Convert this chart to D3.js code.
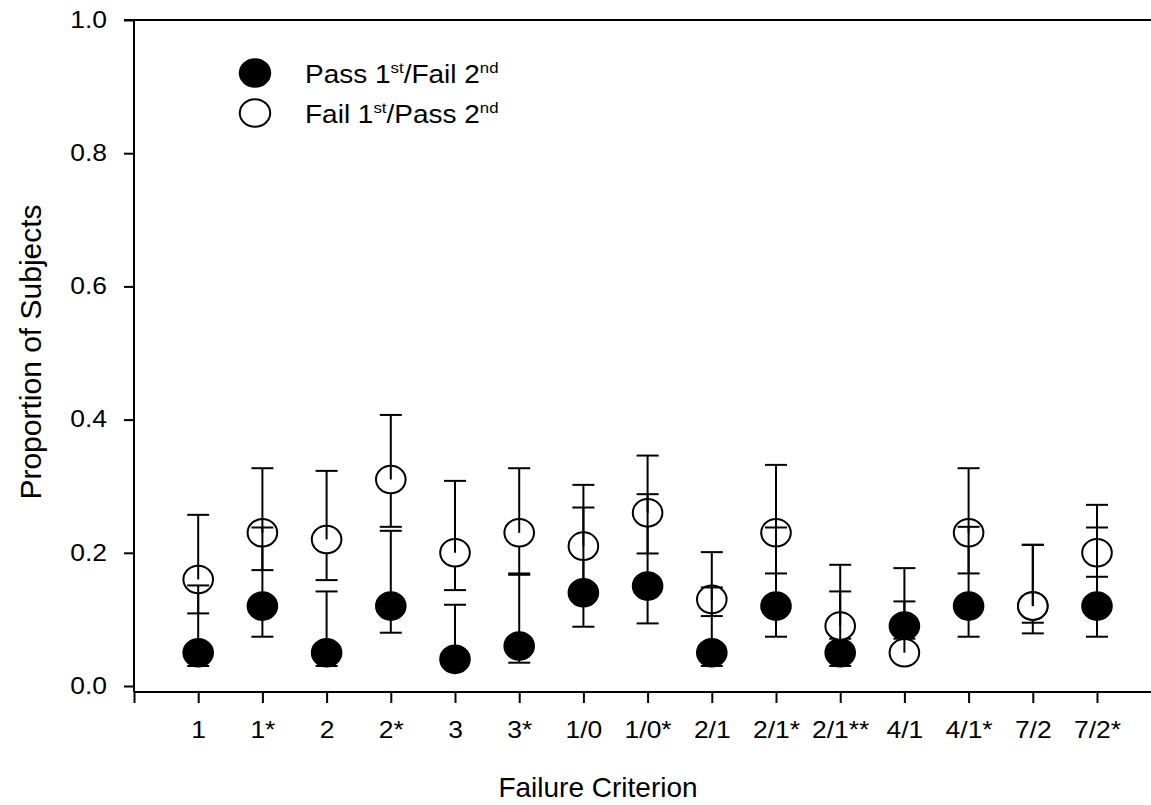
<!DOCTYPE html>
<html>
<head>
<meta charset="utf-8">
<script src="https://cdn.jsdelivr.net/npm/d3@7.9.0/dist/d3.min.js"></script>
<style>
  body { margin: 0; background: #fff; }
  svg { display: block; font-family: "Liberation Sans", Arial, sans-serif; }
</style>
</head>
<body>
<svg id="chart" width="1151" height="805"></svg>
<script>
// failure criteria along the x axis
const categories = ['1', '1*', '2', '2*', '3', '3*', '1/0', '1/0*', '2/1', '2/1*', '2/1**', '4/1', '4/1*', '7/2', '7/2*'];

// Pass 1st / Fail 2nd (filled circles) with interval bounds
const passFail     = [0.05, 0.12, 0.05, 0.12, 0.04, 0.06, 0.14, 0.15, 0.05, 0.12, 0.05, 0.09, 0.12, 0.12, 0.12];
const passFailLow  = [0.030, 0.074, 0.030, 0.080, 0.030, 0.035, 0.089, 0.094, 0.030, 0.074, 0.030, 0.071, 0.074, 0.079, 0.074];
const passFailHigh = [0.151, 0.238, 0.142, 0.233, 0.122, 0.169, 0.268, 0.288, 0.148, 0.238, 0.142, 0.177, 0.239, 0.212, 0.238];

// Fail 1st / Pass 2nd (open circles) with interval bounds
const failPass     = [0.16, 0.23, 0.22, 0.31, 0.20, 0.23, 0.21, 0.26, 0.13, 0.23, 0.09, 0.05, 0.23, 0.12, 0.20];
const failPassLow  = [0.109, 0.174, 0.159, 0.239, 0.144, 0.167, 0.150, 0.199, 0.105, 0.169, 0.071, 0.050, 0.169, 0.095, 0.164];
const failPassHigh = [0.257, 0.327, 0.323, 0.407, 0.308, 0.327, 0.302, 0.346, 0.201, 0.332, 0.182, 0.127, 0.327, 0.212, 0.272];

const yTicks = [0, 0.2, 0.4, 0.6, 0.8, 1.0];

const svg = d3.select('#chart');
const W = 1151;
const step = 64.2;
const stretch = 1.15; // the original picture is a bit wider than tall
const x = d3.scaleLinear().domain([0, 16]).range([134, 134 + 16 * step]);
const y = d3.scaleLinear().domain([0, 1]).range([686, 20]);
const axisY = 692;
const capW = 11;

const series = [
  { fill: '#000', vals: passFail, lo: passFailLow, hi: passFailHigh },
  { fill: '#fff', vals: failPass, lo: failPassLow, hi: failPassHigh }
];
const rows = [];
series.forEach(s => {
  categories.forEach((c, i) => {
    rows.push({ s: s, i: i, v: s.vals[i], lo: s.lo[i], hi: s.hi[i] });
  });
});

// axes
const xAxis = d3.axisBottom(x)
  .tickValues(d3.range(0, 16))
  .tickSize(11)
  .tickPadding(19)
  .tickFormat(d => d === 0 ? '' : categories[d - 1]);

const gx = svg.append('g')
  .attr('transform', `translate(0,${axisY})`)
  .call(xAxis);
gx.select('.domain').attr('d', `M${x(0)},0H${W + 20}`);

const yAxis = d3.axisLeft(y)
  .tickValues(yTicks)
  .tickSize(10)
  .tickPadding(13.5)
  .tickFormat(d3.format('.1f'));

const gy = svg.append('g')
  .attr('transform', `translate(${x(0)},0)`)
  .call(yAxis);
gy.select('.domain').attr('d', `M0,${y(1)}V${axisY}`);

// top frame line
svg.append('line')
  .attr('x1', x(0) - 10).attr('x2', W + 20)
  .attr('y1', y(1)).attr('y2', y(1))
  .attr('stroke', '#000').attr('stroke-width', 2);

svg.selectAll('.domain, .tick line').attr('stroke', '#000').attr('stroke-width', 2);
svg.selectAll('.tick text')
  .attr('fill', '#000')
  .attr('transform', `scale(${stretch},1)`)
  .style('font-size', '23px')
  .style('font-family', '"Liberation Sans", Arial, sans-serif');

function bars(g, data, key) {
  const sel = g.selectAll('g.' + key).data(data).join('g').attr('class', key);
  sel.append('line')
    .attr('x1', d => x(d.i + 1)).attr('x2', d => x(d.i + 1))
    .attr('y1', d => y(d.v)).attr('y2', d => y(d[key]))
    .attr('stroke', '#000').attr('stroke-width', 2);
  sel.append('line')
    .attr('x1', d => x(d.i + 1) - capW).attr('x2', d => x(d.i + 1) + capW)
    .attr('y1', d => y(d[key])).attr('y2', d => y(d[key]))
    .attr('stroke', '#000').attr('stroke-width', 2);
}

const plot = svg.append('g');
bars(plot.append('g'), rows, 'lo');

plot.append('g').selectAll('ellipse')
  .data(rows)
  .join('ellipse')
  .attr('cx', d => x(d.i + 1))
  .attr('cy', d => y(d.v))
  .attr('rx', 14.8)
  .attr('ry', 13.8)
  .attr('fill', d => d.s.fill)
  .attr('stroke', '#000')
  .attr('stroke-width', 2);

bars(plot.append('g'), rows, 'hi');

// legend
const legend = svg.append('g');
const legendItems = [
  { fill: '#000', a: 'Pass 1', b: '/Fail 2', y: 73 },
  { fill: '#fff', a: 'Fail 1', b: '/Pass 2', y: 113 }
];
legendItems.forEach(it => {
  legend.append('ellipse')
    .attr('cx', 255).attr('cy', it.y).attr('rx', 15.2).attr('ry', 13.8)
    .attr('fill', it.fill).attr('stroke', '#000').attr('stroke-width', 2);
  const t = legend.append('text')
    .attr('transform', `translate(305,${it.y + 10}) scale(1.12,1)`)
    .style('font-size', '25px');
  t.append('tspan').text(it.a);
  t.append('tspan').attr('dy', -10).style('font-size', '15px').text('st');
  t.append('tspan').attr('dy', 10).text(it.b);
  t.append('tspan').attr('dy', -10).style('font-size', '15px').text('nd');
});

// axis titles
svg.append('text')
  .attr('x', 598).attr('y', 797)
  .attr('text-anchor', 'middle')
  .style('font-size', '28px')
  .text('Failure Criterion');

svg.append('text')
  .attr('transform', 'translate(41,352) rotate(-90)')
  .attr('text-anchor', 'middle')
  .style('font-size', '30px')
  .text('Proportion of Subjects');
</script>
</body>
</html>
